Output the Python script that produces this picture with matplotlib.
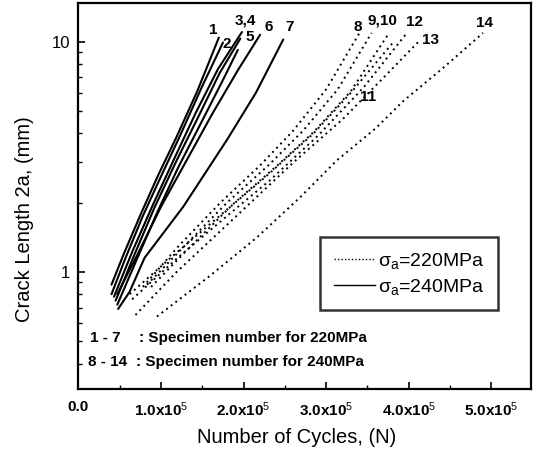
import numpy as np
import matplotlib
matplotlib.use("Agg")
import matplotlib.pyplot as plt
from matplotlib.lines import Line2D

plt.rcParams['font.family'] = ['Liberation Sans', 'DejaVu Sans']
plt.rcParams['mathtext.fontset'] = 'custom'
plt.rcParams['mathtext.rm'] = 'Liberation Sans'
plt.rcParams['mathtext.it'] = 'Liberation Sans'
plt.rcParams['mathtext.bf'] = 'Liberation Sans:bold'

# cycles in units of 1e5, crack length in mm
# solid curves, specimens 1-7
s1_n = [0.40, 0.55, 0.76, 0.97, 1.18, 1.44, 1.70]
s1_a = [0.88, 1.20, 1.80, 2.65, 3.80, 6.10, 10.4]
s2_n = [0.40, 0.57, 0.78, 1.00, 1.23, 1.49, 1.75]
s2_a = [0.80, 1.15, 1.75, 2.60, 3.90, 6.30, 9.9]
s3_n = [0.43, 0.65, 0.90, 1.16, 1.42, 1.69, 1.98]
s3_a = [0.78, 1.22, 1.95, 3.10, 4.90, 7.60, 11.0]
s4_n = [0.45, 0.67, 0.92, 1.18, 1.45, 1.71, 1.96]
s4_a = [0.75, 1.17, 1.90, 3.00, 4.70, 7.30, 10.3]
s5_n = [0.47, 0.70, 0.95, 1.21, 1.48, 1.74, 1.93]
s5_a = [0.72, 1.12, 1.80, 2.85, 4.40, 6.70, 9.2]
s6_n = [0.47, 0.73, 1.00, 1.31, 1.62, 1.93, 2.20]
s6_a = [0.80, 1.22, 1.92, 3.05, 4.85, 7.50, 10.7]
s7_n = [0.48, 0.62, 0.80, 1.27, 1.80, 2.15, 2.48]
s7_a = [0.69, 0.82, 1.15, 1.92, 3.75, 6.00, 10.2]

# dotted curves, specimens 8-14
d8_n = [0.78, 1.20, 1.72, 2.20, 2.60, 3.00, 3.41]
d8_a = [0.86, 1.28, 2.00, 2.90, 4.10, 6.20, 11.0]
d9_n = [0.83, 1.27, 1.80, 2.30, 2.72, 3.14, 3.55]
d9_a = [0.88, 1.28, 2.00, 2.90, 4.10, 6.20, 10.9]
d10_n = [0.88, 1.33, 1.88, 2.40, 2.85, 3.30, 3.74]
d10_a = [0.86, 1.26, 1.98, 2.88, 4.05, 6.10, 10.6]
d11_n = [0.62, 1.15, 1.75, 2.30, 2.85, 3.30, 3.82]
d11_a = [0.80, 1.18, 1.80, 2.65, 4.00, 6.00, 10.0]
d12_n = [0.65, 1.20, 1.80, 2.32, 2.90, 3.45, 3.96]
d12_a = [0.76, 1.15, 1.75, 2.50, 3.90, 6.30, 10.7]
d13_n = [0.69, 1.19, 1.87, 2.60, 3.20, 3.70, 4.12]
d13_a = [0.65, 1.00, 1.69, 2.98, 4.60, 7.00, 10.0]
d14_n = [0.95, 1.59, 2.16, 2.68, 3.13, 3.60, 3.93, 4.42, 4.90]
d14_a = [0.64, 0.96, 1.41, 2.10, 3.05, 4.20, 5.50, 7.70, 10.9]

solid = [(s1_n, s1_a), (s2_n, s2_a), (s3_n, s3_a), (s4_n, s4_a),
         (s5_n, s5_a), (s6_n, s6_a), (s7_n, s7_a)]
dotted = [(d8_n, d8_a), (d9_n, d9_a), (d10_n, d10_a), (d11_n, d11_a),
          (d12_n, d12_a), (d13_n, d13_a), (d14_n, d14_a)]

# curve number labels: text, N (1e5), a (mm)
lab_txt = ['1', '2', '3,4', '5', '6', '7', '8', '9,10', '11', '12', '13', '14']
lab_n = [1.63, 1.79, 2.02, 2.08, 2.30, 2.56, 3.38, 3.68, 3.51, 4.07, 4.26, 4.92]
lab_a = [11.2, 9.8, 12.4, 10.5, 11.6, 11.6, 11.6, 12.4, 5.76, 12.2, 10.2, 12.0]

xticks = [0, 1, 2, 3, 4, 5]
xtick_labels = ['0.0', r'1.0x10$^5$', r'2.0x10$^5$', r'3.0x10$^5$',
                r'4.0x10$^5$', r'5.0x10$^5$']

fig = plt.figure(figsize=(5.39, 4.55), dpi=100)
ax = fig.add_axes([0.1456, 0.145, 0.8394, 0.8484])

for n, a in solid:
    ax.plot(np.array(n) * 1e5, a, color='black', lw=1.5, solid_capstyle='round')
for n, a in dotted:
    ax.plot(np.array(n) * 1e5, a, color='black', lw=1.4, linestyle=(0, (1, 2.0)))

for t, n, a in zip(lab_txt, lab_n, lab_a):
    ax.text(n * 1e5, a, t, fontsize=11, fontweight='bold', ha='center', va='center')

ax.set_yscale('log')
ax.set_xlim(0, 5.48e5)
ax.set_ylim(0.31, 14.7)
ax.set_xticks([v * 1e5 for v in xticks])
ax.set_xticklabels(xtick_labels, fontsize=11, fontweight='bold')
ax.set_xticks([v * 1e5 + 0.5e5 for v in xticks[:-1]], minor=True)
ax.set_yticks([1, 10])
ax.set_yticklabels(['1', '10'], fontsize=12)
ax.yaxis.set_minor_formatter(matplotlib.ticker.NullFormatter())
ax.tick_params(which='major', direction='in', length=5, width=1.2, top=False, right=False)
ax.tick_params(which='minor', direction='in', length=3, width=1.0, top=False, right=False)
ax.tick_params(axis='x', pad=8)
ax.tick_params(axis='y', pad=6)
for sp in ax.spines.values():
    sp.set_linewidth(1.6)

ax.set_xlabel('Number of Cycles, (N)', fontsize=14.5)
ax.xaxis.set_label_coords(0.483, -0.1)
ax.set_ylabel('Crack Length 2a, (mm)', fontsize=14.5)
ax.yaxis.set_label_coords(-0.098, 0.44)

ax.text(0.026, 0.132, '1 - 7', transform=ax.transAxes, fontsize=11, fontweight='bold', va='center')
ax.text(0.133, 0.132, ': Specimen number for 220MPa', transform=ax.transAxes, fontsize=11,
        fontweight='bold', va='center')
ax.text(0.022, 0.07, '8 - 14', transform=ax.transAxes, fontsize=11, fontweight='bold', va='center')
ax.text(0.128, 0.07, ': Specimen number for 240MPa', transform=ax.transAxes, fontsize=11,
        fontweight='bold', va='center')

handles = [Line2D([], [], color='black', lw=1.0, linestyle=(0, (1, 1.5))),
           Line2D([], [], color='black', lw=1.0)]
leg = ax.legend(handles, [r'$\sigma_a$=220MPa', r'$\sigma_a$=240MPa'],
                loc='upper left', bbox_to_anchor=(0.534, 0.393), fontsize=14,
                frameon=True, fancybox=False, handlelength=2.1, handletextpad=0.2,
                borderpad=0.7, labelspacing=0.3, borderaxespad=0)
leg.get_frame().set_edgecolor('black')
leg.get_frame().set_linewidth(1.8)

fig.savefig('out.png', dpi=100)
